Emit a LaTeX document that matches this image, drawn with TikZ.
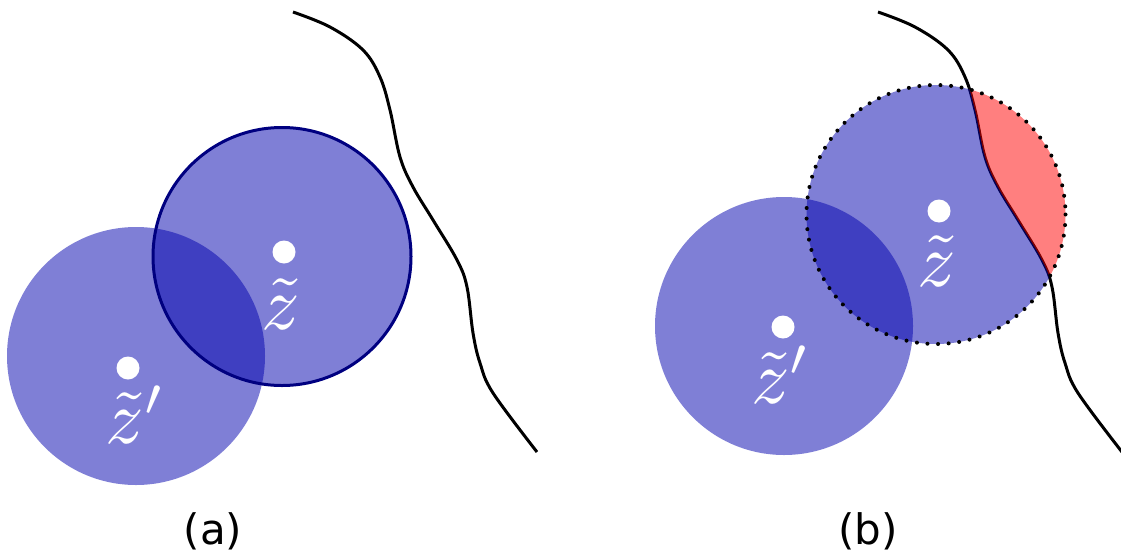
\documentclass[tikz,border=0pt]{standalone}
\usepackage{fontspec}
\newfontfamily\labfont{DejaVu Sans}
\definecolor{fillblue}{RGB}{0,0,173}
\definecolor{navyline}{RGB}{0,0,128}
\definecolor{regionred}{RGB}{255,0,0}
\newcommand{\bcurve}{plot[smooth,tension=0.6] coordinates {(293,12) (330,27) (363,50) (380,77) (390,110) (400,157) (413,187) (433,220) (457,260) (467,287) (473,333) (480,363) (493,393) (537,452)}}
\begin{document}
\begin{tikzpicture}[x=1pt,y=-1pt,
  boundary/.style={line width=3pt,black},
  bluefill/.style={fill=fillblue,fill opacity=0.5},
  redfill/.style={fill=regionred,fill opacity=0.5},
  dotnode/.style={circle,fill=white,inner sep=0pt,minimum size=23pt},
  zlab/.style={text=white,scale=7.6,inner sep=0pt},
  panellab/.style={font=\labfont\fontsize{42}{50}\selectfont,inner sep=0pt}]
\useasboundingbox (0,0) rectangle (1121,557);
% ---------- panel (a)
\draw[boundary] \bcurve;
\fill[bluefill] (136,356) circle (129);
\fill[bluefill] (282,256.5) circle (129);
\draw[navyline,line width=3pt] (282,256.5) circle (129);
\node[dotnode] (dzpa) at (128,368) {};
\node[dotnode] (dza) at (284,252) {};
\node[zlab] (zpa) at (136,415) {$\tilde z'$};
\node[zlab] (za) at (281,304) {$\tilde z$};
\node[panellab] (la) at (213,531) {(a)};
% ---------- panel (b)
\fill[bluefill] (784,326) circle (129);
\begin{scope}[xshift=585]
  \draw[boundary] \bcurve;
  \begin{scope}
    \clip (351,214.5) circle (129.5);
    \fill[bluefill] \bcurve -- (100,470) -- (100,0) -- cycle;
    \fill[redfill] \bcurve -- (700,470) -- (700,0) -- cycle;
  \end{scope}
  \draw[black,line width=4pt,line cap=round,dash pattern=on 0pt off 10.6pt] (351,214.5) circle (129.5);
\end{scope}
\node[dotnode] (dzpb) at (783,327) {};
\node[dotnode] (dzb) at (939,211) {};
\node[zlab] (zpb) at (781,375) {$\tilde z'$};
\node[zlab] (zb) at (937,261) {$\tilde z$};
\node[panellab] (lb) at (868,531) {(b)};
\end{tikzpicture}
\end{document}
